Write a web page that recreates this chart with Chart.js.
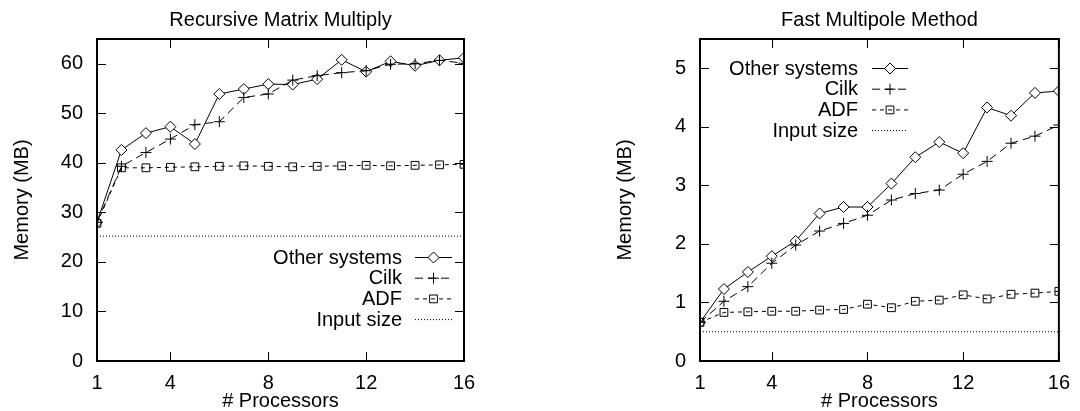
<!DOCTYPE html>
<html>
<head>
<meta charset="utf-8">
<script src="https://cdn.jsdelivr.net/npm/chart.js@4"></script>
<style>
    html, body { margin: 0; padding: 0; background: #fff; }
    .wrap { position: absolute; top: 0; width: 540px; height: 411px; }
    #left-wrap { left: 0; }
    #right-wrap { left: 540px; }
</style>
</head>
<body>
<div class="wrap" id="left-wrap"><canvas id="rmm-chart"></canvas></div>
<div class="wrap" id="right-wrap"><canvas id="fmm-chart"></canvas></div>
<script>
// x values shared by both panels
const processors = [1, 2, 3, 4, 5, 6, 7, 8, 9, 10, 11, 12, 13, 14, 15, 16];
const xTicks = [1, 4, 8, 12, 16];

// Recursive Matrix Multiply (MB)
const rmmOther = [28.0, 42.6, 46.0, 47.3, 43.8, 53.9, 54.9, 55.9, 55.8, 56.9, 60.8, 58.4, 60.5, 59.6, 60.7, 61.2];
const rmmCilk = [28.0, 39.3, 42.1, 44.8, 47.7, 48.3, 53.2, 53.9, 56.7, 57.6, 58.2, 58.6, 59.9, 60.0, 60.7, 60.1];
const rmmAdf = [27.8, 39.0, 39.0, 39.1, 39.2, 39.3, 39.4, 39.3, 39.2, 39.3, 39.4, 39.5, 39.4, 39.5, 39.6, 39.7];
const rmmInputSize = 25.2;
const rmmYTicks = [0, 10, 20, 30, 40, 50, 60];

// Fast Multipole Method (MB)
const fmmOther = [0.66, 1.23, 1.52, 1.79, 2.05, 2.52, 2.63, 2.63, 3.03, 3.48, 3.74, 3.55, 4.33, 4.19, 4.58, 4.61];
const fmmCilk = [0.66, 1.02, 1.27, 1.67, 1.98, 2.22, 2.35, 2.49, 2.75, 2.86, 2.92, 3.19, 3.41, 3.72, 3.84, 4.03];
const fmmAdf = [0.66, 0.83, 0.84, 0.85, 0.85, 0.87, 0.88, 0.97, 0.91, 1.02, 1.04, 1.13, 1.06, 1.14, 1.16, 1.19];
const fmmInputSize = 0.5;
const fmmYTicks = [0, 1, 2, 3, 4, 5];

const FONT = 'Liberation Sans, Arial, sans-serif';
const FSIZE = 20;

const pts = (ys) => ys.map((y, i) => ({ x: processors[i], y }));

// gnuplot style series
const styles = [
    { label: 'Other systems', dash: [], pointStyle: 'rectRot', radius: 5.5, bg: '#fff' },
    { label: 'Cilk', dash: [8, 5], pointStyle: 'cross', radius: 5.5, bg: 'transparent' },
    { label: 'ADF', dash: [4, 4], pointStyle: 'rect', radius: 5.5, bg: 'transparent' },
    { label: 'Input size', dash: [1, 2], pointStyle: false, radius: 0, bg: 'transparent' }
];

function makeDatasets(series) {
    return series.map((data, i) => ({
        label: styles[i].label,
        data: data,
        borderColor: '#000',
        borderWidth: 1,
        borderDash: styles[i].dash,
        pointStyle: styles[i].pointStyle,
        pointRadius: styles[i].radius,
        pointBorderColor: '#000',
        pointBorderWidth: 1,
        pointBackgroundColor: styles[i].bg,
        tension: 0,
        order: 3 - i
    }));
}

// title over the plot, box + inward ticks on all four sides, and the key
const frame = {
    id: 'frame',
    afterDatasetsDraw(chart, args, opts) {
        const ctx = chart.ctx;
        const a = chart.chartArea;
        const xs = chart.scales.x, ys = chart.scales.y;
        const tl = 9;
        ctx.save();
        ctx.strokeStyle = '#000';
        ctx.lineWidth = 1;
        ctx.beginPath();
        xs.ticks.forEach(t => {
            const px = Math.round(xs.getPixelForValue(t.value)) + 0.5;
            ctx.moveTo(px, a.bottom); ctx.lineTo(px, a.bottom - tl);
            ctx.moveTo(px, a.top); ctx.lineTo(px, a.top + tl);
        });
        ys.ticks.forEach(t => {
            const py = Math.round(ys.getPixelForValue(t.value)) + 0.5;
            ctx.moveTo(a.left, py); ctx.lineTo(a.left + tl, py);
            ctx.moveTo(a.right, py); ctx.lineTo(a.right - tl, py);
        });
        ctx.stroke();
        ctx.lineWidth = 2;
        ctx.strokeRect(a.left, a.top, a.right - a.left, a.bottom - a.top);

        ctx.font = FSIZE + 'px ' + FONT;
        ctx.fillStyle = '#000';
        ctx.textBaseline = 'middle';

        // title centred on the plot box
        ctx.textAlign = 'center';
        ctx.fillText(opts.title, (a.left + a.right) / 2, 20);

        // key
        ctx.textAlign = 'right';
        chart.data.datasets.forEach((ds, i) => {
            const y = opts.y + i * opts.step;
            ctx.fillText(ds.label, opts.textRight, y + 1);
            ctx.lineWidth = 1;
            ctx.setLineDash(ds.borderDash);
            ctx.beginPath();
            ctx.moveTo(opts.x0, y + 0.5);
            ctx.lineTo(opts.x1, y + 0.5);
            ctx.stroke();
            ctx.setLineDash([]);
            if (ds.pointStyle) {
                ctx.fillStyle = ds.pointBackgroundColor;
                Chart.helpers.drawPoint(ctx, {
                    pointStyle: ds.pointStyle, radius: ds.pointRadius, rotation: 0, borderWidth: 1
                }, (opts.x0 + opts.x1) / 2, y + 0.5);
                ctx.fillStyle = '#000';
            }
        });
        ctx.restore();
    }
};

function makeChart(id, title, series, yMax, yTicks, padLeft, padRight, key) {
    key.title = title;
    return new Chart(document.getElementById(id), {
        type: 'line',
        data: { datasets: makeDatasets(series) },
        options: {
            responsive: true,
            maintainAspectRatio: false,
            animation: false,
            layout: { padding: { left: padLeft, right: padRight, top: 39, bottom: 0 } },
            plugins: {
                legend: { display: false },
                tooltip: { enabled: false },
                title: { display: false },
                frame: key
            },
            scales: {
                x: {
                    type: 'linear',
                    min: 1,
                    max: 16,
                    afterBuildTicks: (s) => { s.ticks = xTicks.map(v => ({ value: v })); },
                    afterFit: (s) => { s.height = 50; },
                    grid: { display: false, drawTicks: false },
                    border: { display: false },
                    ticks: { color: '#000', padding: 10, maxRotation: 0, font: { family: FONT, size: FSIZE } },
                    title: {
                        display: true, text: '# Processors', color: '#000',
                        font: { family: FONT, size: FSIZE, lineHeight: 1 }, padding: { top: 0, bottom: 0 }
                    }
                },
                y: {
                    min: 0,
                    max: yMax,
                    afterBuildTicks: (s) => { s.ticks = yTicks.map(v => ({ value: v })); },
                    afterFit: (s) => { s.width = 97; },
                    grid: { display: false, drawTicks: false },
                    border: { display: false },
                    ticks: { color: '#000', padding: 14, font: { family: FONT, size: FSIZE } },
                    title: {
                        display: true, text: 'Memory (MB)', color: '#000',
                        font: { family: FONT, size: FSIZE, lineHeight: 1 }, padding: { top: 12, bottom: 0 }
                    }
                }
            }
        },
        plugins: [frame]
    });
}

makeChart('rmm-chart', 'Recursive Matrix Multiply', [
    pts(rmmOther), pts(rmmCilk), pts(rmmAdf),
    [{ x: 1, y: rmmInputSize }, { x: 16, y: rmmInputSize }]
], 65, rmmYTicks, 0, 76, { textRight: 402, x0: 415, x1: 452, y: 257, step: 20.7 });

makeChart('fmm-chart', 'Fast Multipole Method', [
    pts(fmmOther), pts(fmmCilk), pts(fmmAdf),
    [{ x: 1, y: fmmInputSize }, { x: 16, y: fmmInputSize }]
], 5.5, fmmYTicks, 63, 12, { textRight: 318, x0: 332, x1: 368, y: 68, step: 20.7 });
</script>
</body>
</html>
